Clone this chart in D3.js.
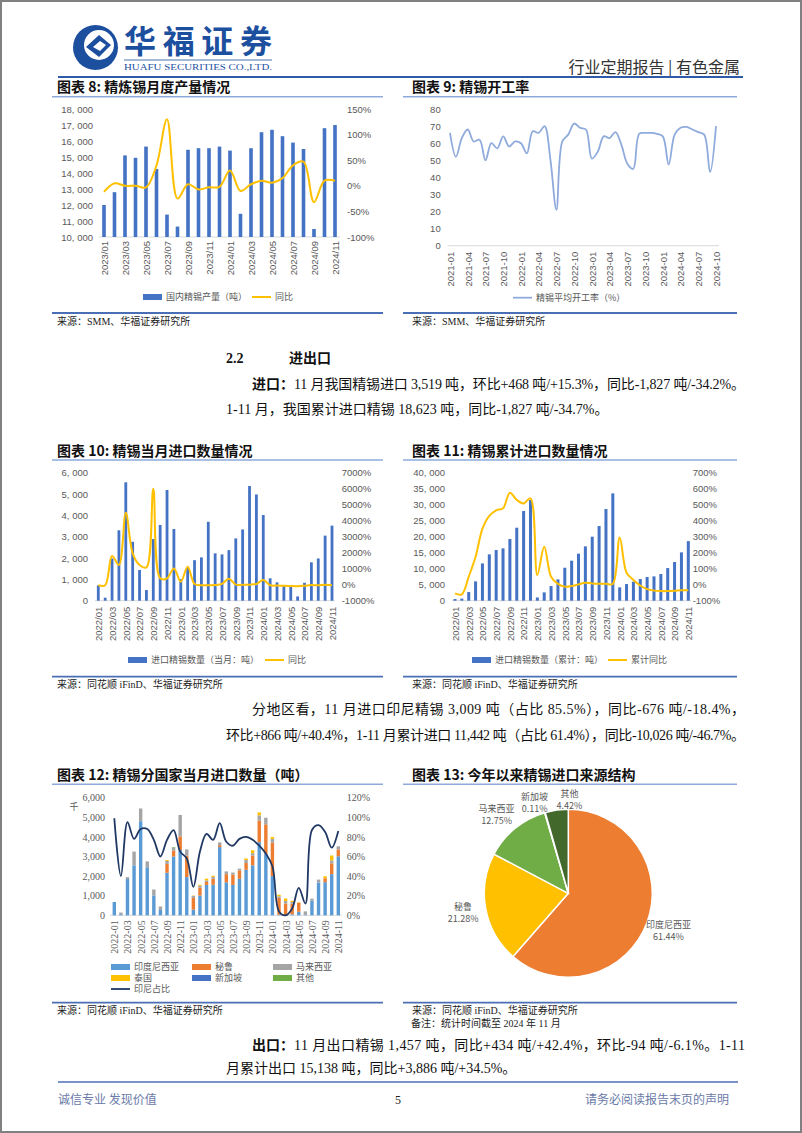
<!DOCTYPE html>
<meta charset="utf-8">
<style>
body { margin: 0; background: #fff; }
svg { display: block; }
text { font-family: "Liberation Serif", "Noto Sans CJK SC", serif; }
.cjk { font-family: "Noto Sans CJK SC", sans-serif; }
.title { font-family: "Noto Sans CJK SC", sans-serif; font-size: 14px; font-weight: 700; fill: #111; }
.src { font-family: "Liberation Serif", "Noto Sans CJK SC", serif; font-size: 10px; fill: #222; }
.body { font-size: 14px; fill: #111; }
.legend { font-family: "Noto Sans CJK SC", sans-serif; font-size: 9px; fill: #595959; }
.axis path, .axis line { stroke: none; }
.axis text { font-family: "Liberation Sans", "Noto Sans CJK SC", sans-serif; font-size: 9.5px; fill: #595959; }
.axis.serif text { font-family: "Liberation Serif", serif; font-size: 10px; }
</style>
<body>
<svg width="802" height="1133"></svg>
<script src="https://d3js.org/d3.v7.min.js"></script>
<script>
function months(y, m, n, sep) {
  var out = [];
  for (var i = 0; i < n; i++) {
    var k = m - 1 + i, mm = k % 12 + 1, yy = y + Math.floor(k / 12);
    out.push(yy + sep + (mm < 10 ? "0" : "") + mm);
  }
  return out;
}

// 图表8 精炼锡月度产量
var prodMonths = months(2023, 1, 23, "/");
var prodOutput = [12000, 12800, 15100, 14950, 15650, 14250, 11400, 10650, 15450, 15550, 15550, 15650,
                  15400, 11450, 15550, 16550, 16700, 16300, 15900, 15500, 10500, 16800, 17000];
var prodYoY = [-12, 5, 0, 0, -3, 40, 130, -25, 3, -7, -3, -2, 30, -10, 3, 10, 6, 15, 40, 47, -32, 10, 10];
var prodLeftTicks = [10000, 11000, 12000, 13000, 14000, 15000, 16000, 17000, 18000];
var prodRightTicks = [-100, -50, 0, 50, 100, 150];

// 图表9 精锡开工率
var rateMonths = months(2021, 1, 46, "-");
var rateValues = [66, 52, 63, 68, 61, 62, 50, 60, 57, 64, 58, 61,
                  60, 54, 67, 66, 70, 50, 21, 61, 65, 71.5, 69, 68,
                  51, 55, 64, 63, 66.5, 59, 48, 45, 65.5, 66, 66, 65.5,
                  64, 47.5, 65, 69, 69.5, 68, 66.5, 65, 43, 70];
var rateTicks = [0, 10, 20, 30, 40, 50, 60, 70, 80];

// 图表10 精锡当月进口
var impMonths = months(2022, 1, 35, "/");
var impMonthly = [720, 140, 1980, 3300, 5550, 2760, 1440, 500, 2890, 3550, 5190, 3360,
                  1010, 1560, 1900, 2030, 3700, 2220, 2170, 2370, 2920, 3340, 5375, 4980,
                  4015, 1050, 860, 700, 660, 200, 840, 1800, 1980, 3050, 3519];
var impYoY = [-30, -30, 1800, 1230, 4500, 1960, 1230, 1080, 6000, 400, 400, 1020,
              190, 1125, 40, -38, -33, -20, 51, 374, 1, -6, 4, 48,
              297, -33, -55, -66, -82, -91, -62, -24, -32, -9, -34];
var impLeftTicks = [0, 1000, 2000, 3000, 4000, 5000, 6000];
var impRightTicks = [-1000, 0, 1000, 2000, 3000, 4000, 5000, 6000, 7000];

// 图表11 精锡累计进口
var cumImport = [520, 660, 2700, 6040, 11650, 14480, 15830, 16350, 19270, 22810, 28020, 31460,
                 1010, 2600, 4580, 6660, 10300, 12500, 14690, 16980, 20000, 23330, 28650, 33540,
                 4170, 5200, 5940, 6770, 7400, 7600, 8330, 10200, 12080, 15100, 18623];
var cumYoY = [-54, -60, 50, 175, 350, 430, 465, 478, 575, 530, 508, 540,
              60, 237, 50, 5, -12, -8, 2, 12, 8, 6, 6, 5,
              295, 75, 30, -5, -28, -37, -40, -40, -38, -35, -34.7];
var cumLeftTicks = [0, 5000, 10000, 15000, 20000, 25000, 30000, 35000, 40000];
var cumRightTicks = [-100, 0, 100, 200, 300, 400, 500, 600, 700];

// 图表12 分国家当月进口
var countryMonths = months(2022, 1, 35, "-");
var indonesia = [680, 56, 1850, 2550, 4800, 2450, 1015, 270, 2170, 3000, 3330, 1950,
                 290, 1010, 1550, 1560, 3480, 1680, 1550, 1860, 2320, 2550, 3730, 3140,
                 2000, 40, 0, 50, 185, 24, 740, 1670, 1690, 2100, 3010];
var peru = [0, 0, 0, 0, 0, 0, 0, 0, 450, 300, 700, 1100,
            600, 400, 150, 300, 100, 420, 530, 430, 350, 500, 1100, 1500,
            1700, 850, 600, 550, 450, 0, 0, 0, 200, 550, 350];
var malaysia = [0, 84, 100, 700, 650, 300, 300, 180, 150, 150, 1090, 310,
                100, 100, 80, 100, 140, 140, 100, 90, 150, 120, 270, 340,
                200, 80, 130, 80, 0, 175, 110, 150, 0, 150, 160];
var thailand = [0, 0, 0, 0, 0, 0, 0, 0, 50, 0, 0, 0,
                20, 50, 90, 60, 0, 0, 0, 0, 80, 150, 150, 0,
                100, 80, 130, 60, 25, 0, 0, 0, 100, 250, 0];
var singapore = [0, 0, 0, 0, 0, 0, 0, 0, 0, 0, 0, 0,
                 0, 0, 0, 0, 0, 0, 0, 0, 0, 0, 0, 0,
                 0, 0, 0, 0, 0, 0, 0, 0, 0, 0, 0];
var others = [0, 0, 0, 0, 0, 0, 0, 0, 0, 30, 0, 0,
              0, 0, 0, 0, 0, 0, 0, 0, 0, 0, 0, 0,
              0, 0, 0, 0, 0, 0, 0, 0, 0, 0, 0];
var indoShare = [99, 40, 95, 78, 88, 88, 77, 60, 77, 87, 65, 58,
                 29, 65, 83, 77, 94, 75, 71, 78, 80, 77, 71, 63,
                 50, 4, 0, 7, 28, 12, 87, 92, 85, 69, 86];
var countryLeftTicks = [0, 1000, 2000, 3000, 4000, 5000, 6000];
var countryRightTicks = [0, 20, 40, 60, 80, 100, 120];

// 图表13 进口来源结构
var pieNames = ["印度尼西亚", "秘鲁", "马来西亚", "新加坡", "其他"];
var pieShares = [61.44, 21.28, 12.75, 0.11, 4.42];

var svg = d3.select("svg");
var BLUE = "#4472c4", GOLD = "#ffc000";

// page frame + header
svg.append("rect").attr("x", 1).attr("y", 1).attr("width", 800).attr("height", 1131)
  .attr("fill", "none").attr("stroke", "#808080").attr("stroke-width", 2);
var logo = svg.append("g");
logo.append("circle").attr("cx", 95.5).attr("cy", 47.5).attr("r", 22.5).attr("fill", "#1d4f9f");
logo.append("circle").attr("cx", 99).attr("cy", 45).attr("r", 15).attr("fill", "#fff");
logo.append("path").attr("d", "M86,47 L99,35 L111,45 L99,57 Z").attr("fill", "#1d4f9f");
logo.append("path").attr("d", "M93,47 L100,41 L106,45 L100,51 Z").attr("fill", "#fff");
svg.append("text").attr("x", 124).attr("y", 53).attr("class", "cjk")
  .attr("font-size", 32).attr("font-weight", 700).attr("fill", "#1d4f9f")
  .attr("textLength", 148).text("华福证券");
svg.append("line").attr("x1", 124).attr("x2", 272).attr("y1", 60).attr("y2", 60)
  .attr("stroke", "#1d4f9f").attr("stroke-width", 0.8);
svg.append("text").attr("x", 124).attr("y", 70).attr("font-size", 9).attr("fill", "#1d4f9f")
  .attr("textLength", 148).attr("lengthAdjust", "spacingAndGlyphs").text("HUAFU SECURITIES CO.,LTD.");
svg.append("text").attr("x", 740).attr("y", 73).attr("text-anchor", "end").attr("class", "cjk")
  .attr("font-size", 16).attr("fill", "#333").text("行业定期报告 | 有色金属");
svg.append("line").attr("x1", 58).attr("x2", 743).attr("y1", 77).attr("y2", 77)
  .attr("stroke", "#2e5aa8").attr("stroke-width", 2);

function title(x, y, label, x1, x2, ly) {
  svg.append("text").attr("class", "title").attr("x", x).attr("y", y).attr("dy", "0.35em").text(label);
  svg.append("line").attr("x1", x1).attr("x2", x2).attr("y1", ly).attr("y2", ly)
    .attr("stroke", "#8eaadb").attr("stroke-width", 1.5);
}
function source(x, x1, x2, ly, ty, label) {
  svg.append("line").attr("x1", x1).attr("x2", x2).attr("y1", ly).attr("y2", ly)
    .attr("stroke", "#4a6fb5").attr("stroke-width", 1.8);
  svg.append("text").attr("class", "src").attr("x", x).attr("y", ty).attr("dy", "0.35em").text(label);
}
function para(x, y, bold, rest, right) {
  var bx = x;
  if (bold) {
    var b = svg.append("text").attr("class", "body").attr("x", x).attr("y", y)
      .attr("font-weight", 700).text(bold);
    bx = x + b.node().getComputedTextLength();
  }
  var t = svg.append("text").attr("class", "body").attr("x", bx).attr("y", y).text(rest);
  if (right) t.attr("textLength", right - bx).attr("lengthAdjust", "spacing");
}
function legendBar(x, y, label, color) {
  svg.append("rect").attr("x", x).attr("y", y - 3).attr("width", 19).attr("height", 6).attr("fill", color);
  svg.append("text").attr("class", "legend").attr("x", x + 23).attr("y", y).attr("dy", "0.35em").text(label);
}
function legendLine(x, y, label, color, w) {
  svg.append("line").attr("x1", x).attr("x2", x + 19).attr("y1", y).attr("y2", y)
    .attr("stroke", color).attr("stroke-width", w);
  svg.append("text").attr("class", "legend").attr("x", x + 23).attr("y", y).attr("dy", "0.35em").text(label);
}
var fmtK = function (d) { return d3.format(",")(d).replace(",", ", "); };
var fmtPct = function (d) { return d + "%"; };

function rotateLabels(g, gap) {
  g.selectAll("text").attr("transform", "rotate(-90)").attr("text-anchor", "end")
    .attr("x", -gap).attr("y", 0).attr("dy", "0.35em");
}

function barLine(o) {
  var x = d3.scalePoint().domain(o.cats).range([o.x0, o.x1]);
  var yL = d3.scaleLinear().domain(o.leftDomain).range([o.yBottom, o.yTop]);
  var yR = d3.scaleLinear().domain(o.rightDomain).range([o.yBottom, o.yTop]);
  svg.append("line").attr("x1", o.ax0).attr("x2", o.ax1).attr("y1", o.yBottom).attr("y2", o.yBottom)
    .attr("stroke", "#d9d9d9");
  svg.append("g").selectAll("rect").data(o.bars).join("rect")
    .attr("x", function (d, i) { return x(o.cats[i]) - o.barW / 2; })
    .attr("y", function (d) { return yL(d); })
    .attr("width", o.barW)
    .attr("height", function (d) { return o.yBottom - yL(d); })
    .attr("fill", BLUE);
  svg.append("path").datum(o.line)
    .attr("d", d3.line().x(function (d, i) { return x(o.cats[i]); }).y(function (d) { return yR(d); })
      .curve(d3.curveCatmullRom))
    .attr("fill", "none").attr("stroke", GOLD).attr("stroke-width", 2);
  svg.append("g").attr("class", "axis").attr("transform", "translate(" + o.leftX + ",0)")
    .call(d3.axisLeft(yL).tickValues(o.leftTicks).tickSize(0).tickPadding(0).tickFormat(fmtK));
  svg.append("g").attr("class", "axis").attr("transform", "translate(" + o.rightX + ",0)")
    .call(d3.axisRight(yR).tickValues(o.rightTicks).tickSize(0).tickPadding(0).tickFormat(fmtPct));
  var xa = svg.append("g").attr("class", "axis").attr("transform", "translate(0," + o.yBottom + ")")
    .call(d3.axisBottom(x).tickValues(o.cats.filter(function (c, i) { return i % 2 === 0; })).tickSize(0));
  rotateLabels(xa, o.gap);
}

// ---- 图表8
title(57, 87, "图表 8:  精炼锡月度产量情况", 52, 383, 96.7);
barLine({cats: prodMonths, bars: prodOutput, line: prodYoY, x0: 104, x1: 335, ax0: 99, ax1: 340,
  yTop: 109, yBottom: 237, leftDomain: [10000, 18000], rightDomain: [-100, 150],
  leftTicks: prodLeftTicks, rightTicks: prodRightTicks, leftX: 93, rightX: 347, barW: 3.6, gap: 4});
legendBar(143, 297, "国内精锡产量（吨）", BLUE);
legendLine(252, 297, "同比", GOLD, 2);
source(57, 52, 383, 313, 321, "来源：SMM、华福证券研究所");

// ---- 图表9
title(412, 87, "图表 9:  精锡开工率", 403, 737, 96.7);
(function () {
  var x = d3.scalePoint().domain(rateMonths).range([450, 716]);
  var y = d3.scaleLinear().domain([0, 80]).range([245.7, 109]);
  svg.append("line").attr("x1", 447.7).attr("x2", 719).attr("y1", 245.7).attr("y2", 245.7).attr("stroke", "#d9d9d9");
  svg.append("path").datum(rateValues)
    .attr("d", d3.line().x(function (d, i) { return x(rateMonths[i]); }).y(function (d) { return y(d); })
      .curve(d3.curveCatmullRom))
    .attr("fill", "none").attr("stroke", "#8faadc").attr("stroke-width", 1.8);
  svg.append("g").attr("class", "axis").attr("transform", "translate(440.7,0)")
    .call(d3.axisLeft(y).tickValues(rateTicks).tickSize(0).tickPadding(0));
  var xa = svg.append("g").attr("class", "axis").attr("transform", "translate(0,245.7)")
    .call(d3.axisBottom(x).tickValues(rateMonths.filter(function (c, i) { return i % 3 === 0; })).tickSize(0));
  rotateLabels(xa, 6);
})();
legendLine(513, 297.7, "精锡平均开工率（%）", "#8faadc", 1.8);
source(412, 403, 737, 313, 321, "来源：SMM、华福证券研究所");

// ---- 正文 2.2
svg.append("text").attr("class", "body").attr("x", 226).attr("y", 363).attr("font-weight", 700).text("2.2");
svg.append("text").attr("class", "body").attr("x", 289).attr("y", 363).attr("font-weight", 700).text("进出口");
para(252, 389, "进口：", "11 月我国精锡进口 3,519 吨，环比+468 吨/+15.3%，同比-1,827 吨/-34.2%。", 745);
para(226, 414, null, "1-11 月，我国累计进口精锡 18,623 吨，同比-1,827 吨/-34.7%。", null);

// ---- 图表10
title(57, 450.7, "图表 10:  精锡当月进口数量情况", 52, 383, 460);
barLine({cats: impMonths, bars: impMonthly, line: impYoY, x0: 98.3, x1: 332, ax0: 95, ax1: 335,
  yTop: 472.7, yBottom: 600.7, leftDomain: [0, 6000], rightDomain: [-1000, 7000],
  leftTicks: impLeftTicks, rightTicks: impRightTicks, leftX: 88, rightX: 341.7, barW: 2.8, gap: 6});
legendBar(128, 660, "进口精锡数量（当月：吨）", BLUE);
legendLine(265, 660, "同比", GOLD, 2);
source(57, 52, 383, 676.7, 684, "来源：同花顺 iFinD、华福证券研究所");

// ---- 图表11
title(412, 450.7, "图表 11:  精锡累计进口数量情况", 403, 737, 460);
barLine({cats: impMonths, bars: cumImport, line: cumYoY, x0: 455, x1: 688.3, ax0: 452, ax1: 691,
  yTop: 472.7, yBottom: 600.7, leftDomain: [0, 40000], rightDomain: [-100, 700],
  leftTicks: cumLeftTicks, rightTicks: cumRightTicks, leftX: 445, rightX: 692.7, barW: 3, gap: 6});
legendBar(472, 660, "进口精锡数量（累计：吨）", BLUE);
legendLine(608, 660, "累计同比", GOLD, 2);
source(412, 403, 737, 676.7, 684, "来源：同花顺 iFinD、华福证券研究所");

// ---- 正文 分地区
para(252, 714, null, "分地区看，11 月进口印尼精锡 3,009 吨（占比 85.5%），同比-676 吨/-18.4%，", 745);
para(226, 740, null, "环比+866 吨/+40.4%，1-11 月累计进口 11,442 吨（占比 61.4%），同比-10,026 吨/-46.7%。", 745);

// ---- 图表12
title(57, 775, "图表 12:  精锡分国家当月进口数量（吨）", 52, 383, 784.3);
(function () {
  var keys = ["印度尼西亚", "秘鲁", "马来西亚", "泰国", "新加坡", "其他"];
  var colors = ["#5b9bd5", "#ed7d31", "#a5a5a5", "#ffc000", "#4472c4", "#70ad47"];
  var series = [indonesia, peru, malaysia, thailand, singapore, others];
  var rows = countryMonths.map(function (m, i) {
    var r = {month: m};
    keys.forEach(function (k, j) { r[k] = series[j][i]; });
    return r;
  });
  var x = d3.scalePoint().domain(countryMonths).range([114.3, 338.3]);
  var yL = d3.scaleLinear().domain([0, 6000]).range([915.3, 797.7]);
  var yR = d3.scaleLinear().domain([0, 120]).range([915.3, 797.7]);
  var stack = d3.stack().keys(keys)(rows);
  svg.append("line").attr("x1", 110).attr("x2", 342).attr("y1", 915.3).attr("y2", 915.3).attr("stroke", "#d9d9d9");
  svg.append("g").selectAll("g").data(stack).join("g")
    .attr("fill", function (d, i) { return colors[i]; })
    .selectAll("rect").data(function (d) { return d; }).join("rect")
    .attr("x", function (d) { return x(d.data.month) - 1.7; })
    .attr("y", function (d) { return yL(d[1]); })
    .attr("width", 3.4)
    .attr("height", function (d) { return yL(d[0]) - yL(d[1]); });
  svg.append("path").datum(indoShare)
    .attr("d", d3.line().x(function (d, i) { return x(countryMonths[i]); }).y(function (d) { return yR(d); })
      .curve(d3.curveCatmullRom))
    .attr("fill", "none").attr("stroke", "#203864").attr("stroke-width", 1.8);
  svg.append("g").attr("class", "axis serif").attr("transform", "translate(105,0)")
    .call(d3.axisLeft(yL).tickValues(countryLeftTicks).tickSize(0).tickPadding(0).tickFormat(d3.format(",")));
  svg.append("g").attr("class", "axis serif").attr("transform", "translate(346.7,0)")
    .call(d3.axisRight(yR).tickValues(countryRightTicks).tickSize(0).tickPadding(0).tickFormat(fmtPct));
  var xa = svg.append("g").attr("class", "axis serif").attr("transform", "translate(0,915.3)")
    .call(d3.axisBottom(x).tickValues(countryMonths.filter(function (c, i) { return i % 2 === 0; })).tickSize(0));
  rotateLabels(xa, 5);
  svg.append("text").attr("class", "legend").attr("x", 74).attr("y", 807).attr("text-anchor", "middle")
    .attr("dy", "0.35em").attr("font-size", 10).text("千");
  var colX = [111, 192, 273], rowY = [967, 978, 989];
  keys.forEach(function (k, i) { legendBar(colX[i % 3], rowY[Math.floor(i / 3)], k, colors[i]); });
  legendLine(111, 989, "印尼占比", "#203864", 1.8);
})();
source(57, 52, 383, 1002.7, 1010, "来源：同花顺 iFinD、华福证券研究所");

// ---- 图表13
title(412, 775, "图表 13:  今年以来精锡进口来源结构", 403, 737, 784.3);
(function () {
  var colors = ["#ed7d31", "#ffc000", "#70ad47", "#4472c4", "#43682b"];
  var nudge = [[0, 0], [0, 0], [-4, 4], [-4, 12], [16, 13]];
  var pie = d3.pie().sort(null).value(function (d) { return d; })(pieShares);
  var arc = d3.arc().innerRadius(0).outerRadius(84);
  var labelArc = d3.arc().innerRadius(107).outerRadius(107);
  var g = svg.append("g").attr("transform", "translate(568.3,893.3)");
  g.selectAll("path").data(pie).join("path").attr("d", arc)
    .attr("fill", function (d, i) { return colors[i]; })
    .attr("stroke", "#fff").attr("stroke-width", 1.5);
  pie.forEach(function (d, i) {
    var c = labelArc.centroid(d), cx = c[0] + nudge[i][0], cy = c[1] + nudge[i][1];
    g.append("text").attr("class", "legend").attr("x", cx).attr("y", cy - 6).attr("dy", "0.35em")
      .attr("text-anchor", "middle").text(pieNames[i]);
    g.append("text").attr("class", "legend").attr("x", cx).attr("y", cy + 6).attr("dy", "0.35em")
      .attr("text-anchor", "middle").text(pieShares[i].toFixed(2) + "%");
  });
})();
source(412, 403, 737, 1002.7, 1010, "来源：同花顺 iFinD、华福证券研究所");
svg.append("text").attr("class", "src").attr("x", 411).attr("y", 1023).attr("dy", "0.35em")
  .text("备注：统计时间截至 2024 年 11 月");

// ---- 正文 出口
para(252, 1050, "出口：", "11 月出口精锡 1,457 吨，同比+434 吨/+42.4%，环比-94 吨/-6.1%。1-11", 745);
para(226, 1073, null, "月累计出口 15,138 吨，同比+3,886 吨/+34.5%。", null);

// ---- footer
svg.append("line").attr("x1", 58).attr("x2", 738).attr("y1", 1082).attr("y2", 1082)
  .attr("stroke", "#4a6fb5").attr("stroke-width", 1.5);
svg.append("text").attr("class", "cjk").attr("x", 58).attr("y", 1104).attr("font-size", 12)
  .attr("fill", "#6b7aa8").text("诚信专业  发现价值");
svg.append("text").attr("x", 398).attr("y", 1104).attr("font-size", 12).attr("text-anchor", "middle")
  .attr("fill", "#222").text("5");
svg.append("text").attr("class", "cjk").attr("x", 729).attr("y", 1104).attr("font-size", 12)
  .attr("text-anchor", "end").attr("fill", "#6b7aa8").text("请务必阅读报告末页的声明");
</script>
</body>
